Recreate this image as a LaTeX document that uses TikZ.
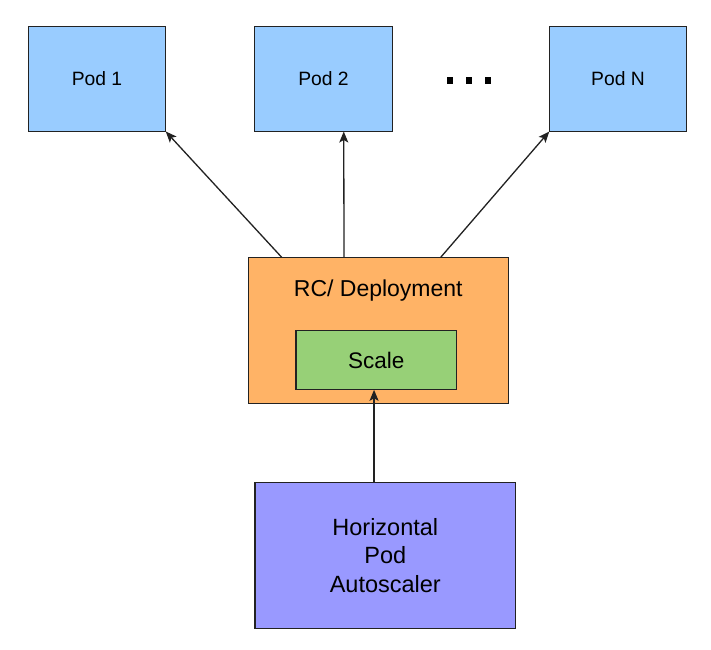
\documentclass[tikz,border=0pt]{standalone}
\usepackage{fontspec}
\setmainfont{Liberation Sans}
\usetikzlibrary{arrows.meta,calc}
\definecolor{podblue}{HTML}{99CCFF}
\definecolor{rcorange}{HTML}{FFB366}
\definecolor{scalegreen}{HTML}{97D077}
\definecolor{hpapurple}{HTML}{9999FF}
\definecolor{edge}{HTML}{222222}
\begin{document}
\begin{tikzpicture}[x=1pt,y=-1pt,
  box/.style={draw=edge, line width=1.3pt, inner sep=0pt, outer sep=0pt, align=center},
  podbox/.style={box, fill=podblue, minimum width=137.5pt, minimum height=105pt,
    font=\fontsize{19.3}{23}\selectfont},
  conn/.style={draw=edge, line width=1.3pt, -{Stealth[length=11pt,width=9pt,inset=2.5pt]}},
  dot/.style={fill=black},
]
\useasboundingbox (0,0) rectangle (711,649);
\fill[white] (0,0) rectangle (711,649);

\node[podbox] (p1) at (97,79) {Pod 1};
\node[podbox] (p2) at (323.5,79) {Pod 2};
\node[podbox] (pn) at (618,79) {Pod N};

\fill[dot] (446.5,77) rectangle (452.5,83.5);
\fill[dot] (465.5,77) rectangle (471.5,83.5);
\fill[dot] (484.5,77) rectangle (490.5,83.5);

\node[box, fill=rcorange, minimum width=260pt, minimum height=146pt] (rc) at (378.3,330.3) {};
\node[font=\fontsize{23}{27}\selectfont, inner sep=0pt] (rct) at (378.3,290.5) {RC/ Deployment};
\node[box, fill=scalegreen, minimum width=160.5pt, minimum height=59pt,
  font=\fontsize{22.5}{27}\selectfont] (sc) at (376.3,360.3) {Scale};

\node[box, fill=hpapurple, minimum width=260.5pt, minimum height=146pt,
  font=\fontsize{23.5}{28.3}\selectfont] (hpa) at (385.3,555.3) {Horizontal\\Pod\\Autoscaler};

\coordinate (s1) at ($(rc.north west)+(33.4,0)$);
\coordinate (s2) at ($(rc.north west)+(95.7,0)$);
\coordinate (s3) at ($(rc.north west)+(192.4,0)$);
\coordinate (e2) at ($(p2.south west)+(89,0)$);
\coordinate (h1) at ($(hpa.north west)+(119,0)$);
\coordinate (h2) at ($(sc.south west)+(78,0)$);

\draw[conn] (s1) -- (p1.south east);
\draw[conn] (s2) -- (e2);
\draw[conn] (s3) -- (pn.south west);
\draw[conn] (h1) -- (h2);
\end{tikzpicture}
\end{document}
